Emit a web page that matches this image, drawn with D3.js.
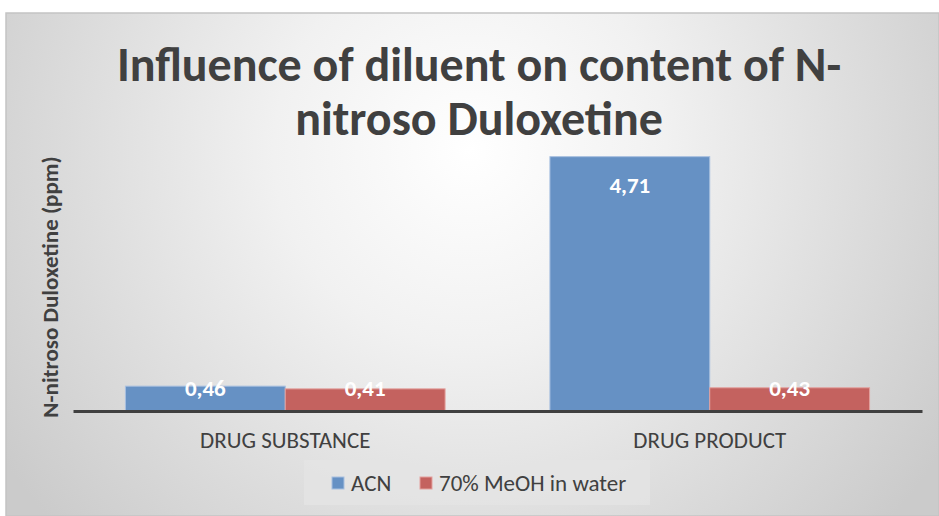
<!DOCTYPE html>
<html>
<head>
<meta charset="utf-8">
<script src="https://cdn.jsdelivr.net/npm/d3@7"></script>
<style>
  html, body { margin: 0; padding: 0; background: #ffffff; }
  svg { display: block; }
  text { font-family: Carlito, Calibri, Lato, "Open Sans", sans-serif; }
</style>
</head>
<body>
<svg id="chart" width="939" height="516"></svg>
<script>
// Content of N-nitroso Duloxetine (ppm) by sample and diluent
const categories = ["DRUG SUBSTANCE", "DRUG PRODUCT"];
const seriesNames = ["ACN", "70% MeOH in water"];
const acnValues = [0.46, 4.71];
const meohValues = [0.41, 0.43];
const seriesColors = ["#6691c4", "#c4625f"];
const seriesStrokes = ["#a8c0e0", "#e3a09d"];
const titleLines = ["Influence of diluent on content of N-", "nitroso Duloxetine"];
const yAxisTitle = "N-nitroso Duloxetine (ppm)";

const rows = categories.map((c, i) => ({
  category: c,
  values: [
    { series: seriesNames[0], value: acnValues[i], idx: 0 },
    { series: seriesNames[1], value: meohValues[i], idx: 1 }
  ]
}));

const svg = d3.select("#chart");
const W = 939, H = 516;

// Chart-area background with soft radial shading
const defs = svg.append("defs");
const grad = defs.append("radialGradient")
  .attr("id", "bg")
  .attr("gradientUnits", "userSpaceOnUse")
  .attr("cx", 470).attr("cy", 150).attr("r", 560);
grad.append("stop").attr("offset", "0%").attr("stop-color", "#ffffff");
grad.append("stop").attr("offset", "35%").attr("stop-color", "#f1f1f1");
grad.append("stop").attr("offset", "100%").attr("stop-color", "#cbcbcb");

svg.append("rect")
  .attr("x", 6).attr("y", 13).attr("width", W - 6).attr("height", H - 13)
  .attr("fill", "url(#bg)")
  .attr("stroke", "#c4c4c4").attr("stroke-width", 1.5);

// Scales
const plot = { left: 73, right: 922, top: 141, bottom: 411 };
const x0 = d3.scaleBand().domain(categories).range([plot.left, plot.right])
  .paddingInner(0.247).paddingOuter(0.1235);
const x1 = d3.scaleBand().domain(seriesNames).range([0, x0.bandwidth()]).padding(0);
const y = d3.scaleLinear().domain([0, 5]).range([plot.bottom, plot.top]);

// Title
svg.append("text")
  .attr("x", 479).attr("y", 81)
  .attr("text-anchor", "middle")
  .attr("font-size", 48).attr("font-weight", "bold")
  .attr("fill", "#404040")
  .selectAll("tspan").data(titleLines).join("tspan")
  .attr("x", 479).attr("dy", (d, i) => i === 0 ? 0 : 54)
  .text(d => d);

// Bars
const groups = svg.append("g").selectAll("g").data(rows).join("g")
  .attr("transform", d => `translate(${x0(d.category)},0)`);

groups.selectAll("rect").data(d => d.values).join("rect")
  .attr("x", d => x1(d.series))
  .attr("y", d => y(d.value))
  .attr("width", x1.bandwidth())
  .attr("height", d => y(0) - y(d.value))
  .attr("fill", d => seriesColors[d.idx])
  .attr("stroke", d => seriesStrokes[d.idx])
  .attr("stroke-width", 1);

// Value labels, inside the end of each bar
groups.selectAll("text.val").data(d => d.values).join("text")
  .attr("class", "val")
  .attr("x", d => x1(d.series) + x1.bandwidth() / 2)
  .attr("y", d => Math.min(y(d.value) + 28, y(0) - 23))
  .attr("dy", "0.35em")
  .attr("text-anchor", "middle")
  .attr("font-size", 23).attr("font-weight", "bold")
  .attr("fill", "#ffffff")
  .text(d => d3.format(".2f")(d.value).replace(".", ","));

// Category axis
const xAxis = svg.append("g")
  .attr("transform", `translate(0,${plot.bottom})`)
  .call(d3.axisBottom(x0).tickSize(0).tickPadding(21));
xAxis.select(".domain").attr("stroke", "#404040").attr("stroke-width", 3);
xAxis.selectAll(".tick text")
  .attr("font-family", "Carlito, Calibri, Lato, 'Open Sans', sans-serif")
  .attr("font-size", 23).attr("fill", "#404040");

// Value-axis title
svg.append("text")
  .attr("transform", `translate(58,287) rotate(-90)`)
  .attr("text-anchor", "middle")
  .attr("font-size", 23).attr("font-weight", "bold")
  .attr("fill", "#404040")
  .text(yAxisTitle);

// Legend
const legend = svg.append("g");
legend.append("rect")
  .attr("x", 304).attr("y", 460).attr("width", 346).attr("height", 45)
  .attr("fill", "#e4e4e4").attr("opacity", 0.75);
const legendX = [332, 420];
seriesNames.forEach((name, i) => {
  legend.append("rect")
    .attr("x", legendX[i]).attr("y", 477).attr("width", 12).attr("height", 12)
    .attr("fill", seriesColors[i]).attr("stroke", seriesStrokes[i]);
  legend.append("text")
    .attr("x", legendX[i] + 19).attr("y", 483).attr("dy", "0.35em")
    .attr("font-size", 23).attr("fill", "#404040")
    .text(name);
});
</script>
</body>
</html>
